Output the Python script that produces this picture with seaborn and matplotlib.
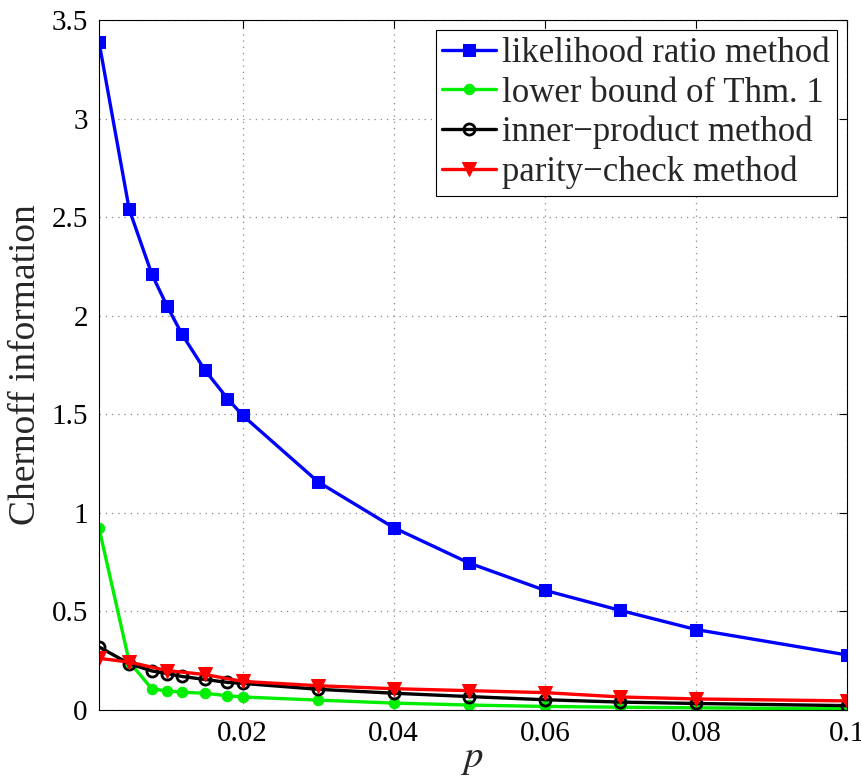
import matplotlib
matplotlib.use("Agg")
import matplotlib.pyplot as plt
import seaborn as sns

p_full = [0.001, 0.005, 0.008, 0.01, 0.012, 0.015, 0.018, 0.02,
          0.03, 0.04, 0.05, 0.06, 0.07, 0.08, 0.1]
p_parity = [0.001, 0.005, 0.01, 0.015, 0.02,
            0.03, 0.04, 0.05, 0.06, 0.07, 0.08, 0.1]

likelihood_ratio = [3.39, 2.54, 2.21, 2.05, 1.905, 1.725, 1.58, 1.495,
                    1.157, 0.925, 0.745, 0.607, 0.505, 0.408, 0.279]
lower_bound = [0.925, 0.245, 0.107, 0.097, 0.09, 0.085, 0.072, 0.066,
               0.05, 0.035, 0.025, 0.018, 0.014, 0.011, 0.006]
inner_product = [0.32, 0.235, 0.198, 0.185, 0.17, 0.155, 0.14, 0.135,
                 0.105, 0.085, 0.068, 0.052, 0.04, 0.033, 0.022]
parity_check = [0.262, 0.243, 0.2, 0.18, 0.145,
                0.123, 0.108, 0.098, 0.088, 0.066, 0.056, 0.046]

sns.set_style("white")
plt.rcParams["font.family"] = ["Liberation Serif", "DejaVu Serif"]
plt.rcParams["mathtext.fontset"] = "stix"

fig = plt.figure(figsize=(8.62, 7.79), dpi=100)
ax = fig.add_axes([0.1148, 0.0886, 0.868, 0.8857])

line_kw = dict(linewidth=2.4, markersize=8, estimator=None, ax=ax)
sns.lineplot(x=p_full, y=likelihood_ratio, color="#0000ff", marker="s",
             markeredgecolor="#0000ff", label="likelihood ratio method", **line_kw)
sns.lineplot(x=p_full, y=lower_bound, color="#00ee00", marker="o",
             markeredgecolor="#00ee00", label="lower bound of Thm. 1",
             linewidth=2.4, markersize=7.5, estimator=None, ax=ax)
sns.lineplot(x=p_full, y=inner_product, color="black", marker="o",
             markerfacecolor="none", markeredgecolor="black", markeredgewidth=2,
             label="inner\u2212product method", **line_kw)
sns.lineplot(x=p_parity, y=parity_check, color="#ff0000", marker="v",
             markeredgecolor="#ff0000", label="parity\u2212check method",
             linewidth=2.4, markersize=10, estimator=None, ax=ax)

ax.set_xlim(0.001, 0.1)
ax.set_ylim(0, 3.5)
ax.set_xticks([0.02, 0.04, 0.06, 0.08, 0.1])
ax.set_xticklabels(["0.02", "0.04", "0.06", "0.08", "0.1"])
ax.set_yticks([0, 0.5, 1, 1.5, 2, 2.5, 3, 3.5])
ax.set_yticklabels(["0", "0.5", "1", "1.5", "2", "2.5", "3", "3.5"])
ax.tick_params(axis="both", direction="in", length=6, width=0.8,
               labelsize=21, top=True, right=True, colors="black", pad=8)
ax.grid(True, linestyle=(0, (1, 4)), color="#888888", linewidth=0.9)
for spine in ax.spines.values():
    spine.set_color("black")
    spine.set_linewidth(0.8)

ax.set_xlabel("$p$", fontsize=28, labelpad=-5)
ax.set_ylabel("Chernoff information", fontsize=27, labelpad=6)

leg = ax.legend(loc="upper right", fontsize=25, frameon=True, fancybox=False,
                edgecolor="black", framealpha=1, handlelength=1.55,
                borderpad=0.2, labelspacing=0.18, handletextpad=0.17,
                borderaxespad=0.3)
leg.get_frame().set_linewidth(0.8)

fig.savefig("out.png", dpi=100)
